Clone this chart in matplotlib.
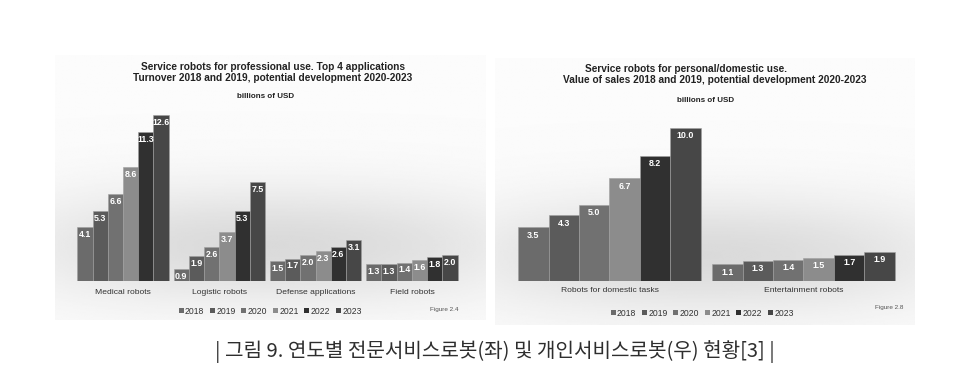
import numpy as np
import matplotlib.pyplot as plt
from matplotlib.patches import Patch

plt.rcParams['font.family'] = ['Liberation Sans', 'DejaVu Sans']

# data
years = ['2018', '2019', '2020', '2021', '2022', '2023']
colors = ['#6b6b6b', '#5b5b5b', '#717171', '#8c8c8c', '#303030', '#474747']

pro_cats = ['Medical robots', 'Logistic robots', 'Defense applications', 'Field robots']
pro_vals = [
    [4.1, 5.3, 6.6, 8.6, 11.3, 12.6],
    [0.9, 1.9, 2.6, 3.7, 5.3, 7.5],
    [1.5, 1.7, 2.0, 2.3, 2.6, 3.1],
    [1.3, 1.3, 1.4, 1.6, 1.8, 2.0],
]

dom_cats = ['Robots for domestic tasks', 'Entertainment robots']
dom_vals = [
    [3.5, 4.3, 5.0, 6.7, 8.2, 10.0],
    [1.1, 1.3, 1.4, 1.5, 1.7, 1.9],
]

W, H = 976, 378
fig = plt.figure(figsize=(W / 100, H / 100), dpi=100)
fig.patch.set_facecolor('white')


def px_rect(x0, y0, x1, y1):
    # pixel box (top-left origin) -> figure fraction rect
    return [x0 / W, 1 - y1 / H, (x1 - x0) / W, (y1 - y0) / H]


def background(x0, y0, x1, y1, yband):
    bg = fig.add_axes(px_rect(x0, y0, x1, y1), zorder=0)
    ny, nx = 200, 200
    yy = np.linspace(0, 1, ny)[:, None]
    xx = np.linspace(-1, 1, nx)[None, :]
    vert = np.exp(-((yy - yband) / 0.22) ** 2)
    horiz = 1 - 0.5 * xx ** 2
    shade = 0.985 - 0.13 * vert * horiz
    bg.imshow(shade, cmap='gray', vmin=0, vmax=1, aspect='auto',
              extent=[0, 1, 0, 1], origin='upper')
    bg.axis('off')


def bar_chart(rect, cats, vals, xlim, ylim, width):
    ax = fig.add_axes(rect, zorder=2)
    ax.patch.set_alpha(0)
    n = len(years)
    for gi, gvals in enumerate(vals):
        for j, v in enumerate(gvals):
            x = gi + (j - (n - 1) / 2) * width
            ax.bar(x, v, width=width, color=colors[j], edgecolor='#a0a0a0',
                   linewidth=0.4)
            ax.text(x, v - 0.22, f'{v:.1f}', ha='center', va='top',
                    color='white', fontsize=6.4, fontweight='bold')
    ax.set_xlim(*xlim)
    ax.set_ylim(*ylim)
    ax.axis('off')
    return ax


# left panel
background(55, 55, 485, 320, 0.72)
axl = bar_chart(px_rect(55, 55, 485, 281), pro_cats, pro_vals,
                (-0.706, 3.759), (0, 226 / 13.2), 0.158)
pro_centers = [123, 219.5, 316, 412]
for c, name in zip(pro_centers, pro_cats):
    fig.text(c / W, 1 - 292 / H, name, ha='center', va='center',
             fontsize=6.1, color='#333333')
fig.text(273 / W, 1 - 67 / H, 'Service robots for professional use. Top 4 applications',
         ha='center', va='center', fontsize=7.3, fontweight='bold', color='#222222')
fig.text(273 / W, 1 - 78 / H, 'Turnover 2018 and 2019, potential development 2020-2023',
         ha='center', va='center', fontsize=7.3, fontweight='bold', color='#222222')
fig.text(266 / W, 1 - 96 / H, 'billions of USD', ha='center', va='center',
         fontsize=5.8, fontweight='bold', color='#222222')
fig.text(458 / W, 1 - 310 / H, 'Figure 2.4', ha='right', va='center',
         fontsize=4.6, color='#555555')

# right panel
background(495, 58, 915, 325, 0.74)
axr = bar_chart(px_rect(495, 60, 915, 281), dom_cats, dom_vals,
                (-0.590, 1.575), (0, 221 / 15.3), 0.157)
dom_centers = [609.5, 803.5]
for c, name in zip(dom_centers, dom_cats):
    fig.text(c / W, 1 - 291 / H, name, ha='center', va='center',
             fontsize=6.1, color='#333333')
fig.text(686 / W, 1 - 69 / H, 'Service robots for personal/domestic use.',
         ha='center', va='center', fontsize=7.3, fontweight='bold', color='#222222')
fig.text(715 / W, 1 - 80 / H, 'Value of sales 2018 and 2019, potential development 2020-2023',
         ha='center', va='center', fontsize=7.3, fontweight='bold', color='#222222')
fig.text(706 / W, 1 - 100 / H, 'billions of USD', ha='center', va='center',
         fontsize=5.8, fontweight='bold', color='#222222')
fig.text(903 / W, 1 - 308 / H, 'Figure 2.8', ha='right', va='center',
         fontsize=4.6, color='#555555')

# legends
handles = [Patch(facecolor=c, edgecolor='none', label=y) for c, y in zip(colors, years)]
for cx, cy in [(270, 311), (702, 313)]:
    fig.legend(handles=handles, loc='center', bbox_to_anchor=(cx / W, 1 - cy / H),
               ncol=6, frameon=False, fontsize=6.2, handlelength=0.6,
               handleheight=0.6, handletextpad=0.15, columnspacing=0.65,
               labelcolor='#333333')

# caption
fig.text(495 / W, 1 - 352 / H,
         '| 그림 9. 연도별 전문서비스로봇(좌) 및 개인서비스로봇(우) 현황[3] |',
         ha='center', va='center', fontsize=14.5, color='#2e2e2e',
         fontweight='medium', family=['Noto Sans CJK KR', 'DejaVu Sans'])

fig.savefig('out.png', dpi=100, facecolor='white')
